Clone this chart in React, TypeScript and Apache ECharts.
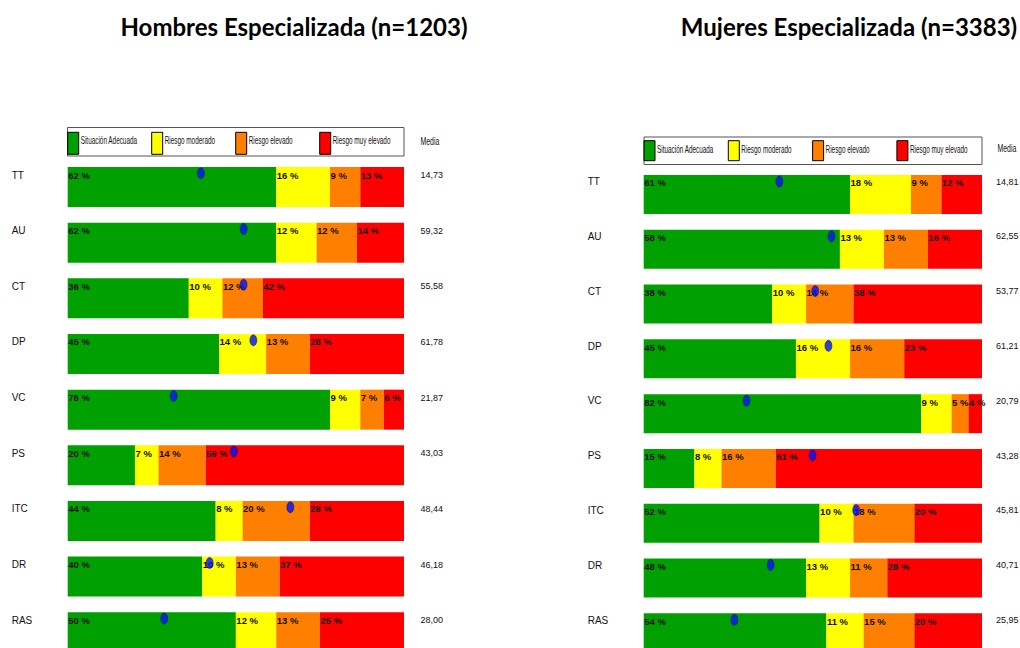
import React, { useEffect, useRef } from "react";
import * as echarts from "echarts";

const categories = ["TT", "AU", "CT", "DP", "VC", "PS", "ITC", "DR", "RAS"];
const seriesNames = ["Situación Adecuada", "Riesgo moderado", "Riesgo elevado", "Riesgo muy elevado"];
const seriesColors = ["#00a000", "#ffff00", "#ff8000", "#ff0000"];
const mediaHeader = "Media";

const menTitle = "Hombres Especializada (n=1203)";
const menAdecuada = [62, 62, 36, 45, 78, 20, 44, 40, 50];
const menModerado = [16, 12, 10, 14, 9, 7, 8, 10, 12];
const menElevado = [9, 12, 12, 13, 7, 14, 20, 13, 13];
const menMuyElevado = [13, 14, 42, 28, 6, 59, 28, 37, 25];
const menMedia = ["14,73", "59,32", "55,58", "61,78", "21,87", "43,03", "48,44", "46,18", "28,00"];
const menDot = [39.6, 52.3, 52.3, 55.2, 31.5, 49.4, 66.2, 42.2, 28.7];

const womenTitle = "Mujeres Especializada (n=3383)";
const womenAdecuada = [61, 58, 38, 45, 82, 15, 52, 48, 54];
const womenModerado = [18, 13, 10, 16, 9, 8, 10, 13, 11];
const womenElevado = [9, 13, 14, 16, 5, 16, 18, 11, 15];
const womenMuyElevado = [12, 16, 38, 23, 4, 61, 20, 28, 20];
const womenMedia = ["14,81", "62,55", "53,77", "61,21", "20,79", "43,28", "45,81", "40,71", "25,95"];
const womenDot = [40.1, 55.5, 50.7, 54.6, 30.4, 49.9, 62.8, 37.5, 26.8];

const SANS = "'Liberation Sans', Arial, sans-serif";

export default function App() {
  const ref = useRef<HTMLDivElement>(null);

  useEffect(() => {
    if (!ref.current) return;
    const chart = echarts.init(ref.current, undefined, { renderer: "svg" });

    const panels = [
      {
        title: menTitle,
        titleX: 289,
        values: [menAdecuada, menModerado, menElevado, menMuyElevado],
        media: menMedia,
        dots: menDot,
        grid: { left: 67.7, width: 336.3, top: 159.2, height: 500.9 },
        barWidth: 40,
        labelShift: 24,
        dotOffset: -13.7,
        mediaMargin: 16.5,
        mediaPos: { x: 420.5, y: 141 },
        legend: { x: 67.7, y: 132.3, step: 84, h: 22, textY: 140.5 },
        box: { x: 67.5, y: 127.5, width: 336.5, height: 28.5 },
      },
      {
        title: womenTitle,
        titleX: 844,
        values: [womenAdecuada, womenModerado, womenElevado, womenMuyElevado],
        media: womenMedia,
        dots: womenDot,
        grid: { left: 643.7, width: 338.3, top: 167.1, height: 493.1 },
        barWidth: 39,
        labelShift: 25.6,
        dotOffset: -13,
        mediaMargin: 14,
        mediaPos: { x: 997.5, y: 148 },
        legend: { x: 644, y: 140.7, step: 84.3, h: 20, textY: 149 },
        box: { x: 644, y: 137, width: 338, height: 27.5 },
      },
    ];

    const grid: any[] = [];
    const xAxis: any[] = [];
    const yAxis: any[] = [];
    const series: any[] = [];
    const graphic: any[] = [];
    const title: any[] = [];

    panels.forEach((p, gi) => {
      title.push({
        text: p.title,
        left: p.titleX,
        top: 9,
        textAlign: "center",
        textStyle: { fontFamily: "Lato", fontWeight: "bold", fontSize: 24, color: "#000" },
      });
      grid.push({ ...p.grid, containLabel: false, outerBoundsMode: "none" });
      xAxis.push({ type: "value", gridIndex: gi, min: 0, max: 100, show: false });
      yAxis.push({
        type: "category",
        gridIndex: gi,
        data: categories,
        inverse: true,
        axisLine: { show: false },
        axisTick: { show: false },
        splitLine: { show: false },
        axisLabel: {
          align: "left",
          margin: 56,
          lineHeight: p.labelShift,
          formatter: (v: string) => v + "\n ",
          fontFamily: SANS,
          fontSize: 10,
          color: "#111",
        },
      });
      yAxis.push({
        type: "category",
        gridIndex: gi,
        position: "right",
        data: p.media,
        inverse: true,
        axisLine: { show: false },
        axisTick: { show: false },
        splitLine: { show: false },
        axisLabel: {
          align: "left",
          margin: p.mediaMargin,
          lineHeight: p.labelShift,
          formatter: (v: string) => v + "\n ",
          fontFamily: SANS,
          fontSize: 9,
          color: "#111",
        },
      });
      p.values.forEach((vals, si) => {
        series.push({
          type: "bar",
          name: seriesNames[si],
          xAxisIndex: gi,
          yAxisIndex: gi * 2,
          stack: "panel" + gi,
          barWidth: p.barWidth,
          data: vals,
          itemStyle: { color: seriesColors[si] },
          label: {
            show: true,
            position: [0.5, 8],
            align: "left",
            verticalAlign: "middle",
            formatter: "{c} %",
            fontFamily: SANS,
            fontSize: 9.5,
            fontWeight: "bold",
            color: "#111",
          },
          z: 2,
        });
      });
      series.push({
        type: "scatter",
        name: "Puntuación",
        xAxisIndex: gi,
        yAxisIndex: gi * 2,
        data: p.dots.map((v, i) => [v, categories[i]]),
        symbol: "circle",
        symbolSize: [7, 11],
        symbolOffset: [0, p.dotOffset],
        itemStyle: { color: "#0010ff", borderColor: "#000080", borderWidth: 0.6 },
        z: 5,
      });

      graphic.push({
        type: "rect",
        shape: { ...p.box },
        style: { fill: "#fff", stroke: "#555", lineWidth: 1 },
        z: 1,
        silent: true,
      });
      seriesNames.forEach((name, si) => {
        const ix = p.legend.x + si * p.legend.step;
        graphic.push({
          type: "rect",
          shape: { x: ix, y: p.legend.y, width: 11, height: p.legend.h },
          style: { fill: seriesColors[si], stroke: "#000", lineWidth: 1 },
          z: 3,
          silent: true,
        });
        graphic.push({
          type: "text",
          x: ix + 13,
          y: p.legend.textY,
          scaleX: 0.58,
          style: {
            text: name,
            fontFamily: SANS,
            fontSize: 11,
            fill: "#111",
            textAlign: "left",
            textVerticalAlign: "middle",
          },
          z: 3,
          silent: true,
        });
      });
      graphic.push({
        type: "text",
        x: p.mediaPos.x,
        y: p.mediaPos.y,
        scaleX: 0.63,
        style: {
          text: mediaHeader,
          fontFamily: SANS,
          fontSize: 11,
          fill: "#111",
          textAlign: "left",
          textVerticalAlign: "middle",
        },
        z: 3,
        silent: true,
      });
    });

    chart.setOption({
      animation: false,
      backgroundColor: "#fff",
      title,
      grid,
      xAxis,
      yAxis,
      series,
      graphic,
    });

    return () => chart.dispose();
  }, []);

  return (
    <div
      ref={ref}
      style={{ position: "fixed", left: 0, top: 0, width: 1020, height: 648, background: "#fff" }}
    />
  );
}
